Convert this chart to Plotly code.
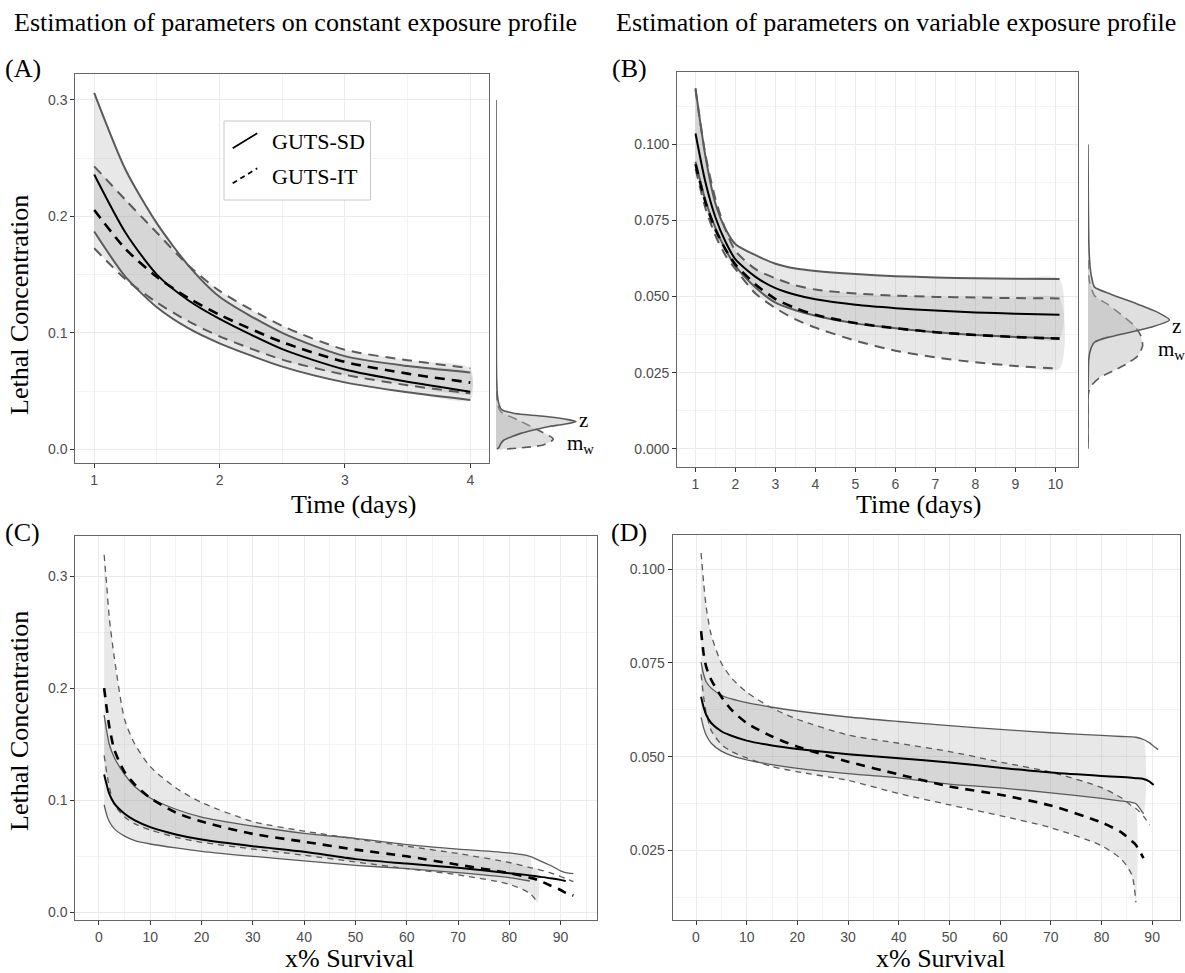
import plotly.graph_objects as go

W, H = 1185, 973
def fx(p): return p / W
def fy(p): return 1 - p / H

# ---------------- Panel A: constant exposure, LC vs time ----------------
A_time = [1, 1.25, 1.5, 1.75, 2, 2.5, 3, 3.5, 4]
A_sd_up = [0.306, 0.240, 0.194, 0.158, 0.131, 0.100, 0.080, 0.0715, 0.066]
A_sd_med = [0.236, 0.186, 0.150, 0.128, 0.112, 0.086, 0.0685, 0.058, 0.0495]
A_sd_lo = [0.187, 0.148, 0.122, 0.104, 0.091, 0.071, 0.0575, 0.049, 0.0424]
A_it_up = [0.243, 0.214, 0.186, 0.158, 0.136, 0.106, 0.0855, 0.0765, 0.0696]
A_it_med = [0.2055, 0.172, 0.148, 0.130, 0.1155, 0.092, 0.075, 0.065, 0.0573]
A_it_lo = [0.1726, 0.146, 0.126, 0.110, 0.097, 0.077, 0.064, 0.055, 0.048]

# marginal densities (relative density, z peak = 1)
A_z_y = [0.30, 0.20, 0.10, 0.060, 0.045, 0.038, 0.034, 0.031, 0.028, 0.0255, 0.0237,
         0.0215, 0.0194, 0.0166, 0.0137, 0.0110, 0.0080, 0.0050, 0.0020, 0.0]
A_z_d = [0.0, 0.002, 0.004, 0.008, 0.02, 0.04, 0.07, 0.22, 0.65, 0.90, 1.0,
         0.85, 0.65, 0.47, 0.31, 0.20, 0.10, 0.06, 0.04, 0.015]
A_mw_y = [0.050, 0.040, 0.0323, 0.0252, 0.0166, 0.0095, 0.0080, 0.0037, 0.0010, 0.0]
A_mw_d = [0.0, 0.0125, 0.06, 0.275, 0.525, 0.71, 0.71, 0.59, 0.275, 0.06]

# ---------------- Panel B: variable exposure, LC vs time ----------------
B_time = [1, 1.25, 1.5, 1.75, 2, 2.5, 3, 3.5, 4, 5, 6, 7, 8, 9, 10.1]
B_sd_up = [0.1185, 0.0960, 0.0805, 0.0722, 0.0672, 0.0636, 0.0608, 0.0592, 0.0584, 0.0574, 0.0567, 0.0563, 0.0560, 0.0559, 0.0558]
B_sd_med = [0.1036, 0.0875, 0.0760, 0.0680, 0.0622, 0.0565, 0.0528, 0.0506, 0.0491, 0.0473, 0.0462, 0.0454, 0.0448, 0.0444, 0.0440]
B_sd_lo = [0.0943, 0.0815, 0.0725, 0.0655, 0.0600, 0.0530, 0.0480, 0.0455, 0.0437, 0.0412, 0.0396, 0.0383, 0.0374, 0.0367, 0.0362]
B_it_up = [0.1180, 0.0965, 0.0820, 0.0720, 0.0650, 0.0590, 0.0560, 0.0537, 0.0523, 0.0510, 0.0503, 0.0499, 0.0497, 0.0495, 0.0494]
B_it_med = [0.0935, 0.0810, 0.0720, 0.0655, 0.0605, 0.0540, 0.0492, 0.0462, 0.0440, 0.0413, 0.0396, 0.0383, 0.0374, 0.0367, 0.0362]
B_it_lo = [0.0920, 0.0790, 0.0700, 0.0635, 0.0590, 0.0510, 0.0462, 0.0425, 0.0398, 0.0355, 0.0322, 0.0300, 0.0284, 0.0272, 0.0263]

B_z_y = [0.100, 0.080, 0.066, 0.060, 0.0569, 0.0531, 0.0508, 0.0475, 0.0449, 0.0423,
         0.0399, 0.0383, 0.0366, 0.0350, 0.0327, 0.0294, 0.025, 0.020, 0.0]
B_z_d = [0.0, 0.004, 0.012, 0.025, 0.04, 0.08, 0.28, 0.61, 0.85, 1.0,
         0.77, 0.52, 0.24, 0.08, 0.033, 0.009, 0.004, 0.001, 0.0]
B_mw_y = [0.062, 0.055, 0.0503, 0.0475, 0.0442, 0.0404, 0.0370, 0.0338, 0.0305, 0.0277,
          0.0260, 0.0235, 0.0210, 0.0190, 0.0170, 0.0]
B_mw_d = [0.0, 0.018, 0.08, 0.24, 0.40, 0.57, 0.65, 0.67, 0.61, 0.46,
          0.34, 0.15, 0.05, 0.012, 0.0, 0.0]

# ---------------- Panel C: constant exposure, LC vs x% survival ----------------
C_surv = [1, 1.5, 2, 3, 5, 7, 10, 15, 20, 30, 40, 50, 60, 70, 80, 84, 85.5, 88, 90, 91, 92.5]
C_sd_up = [0.176, 0.162, 0.150, 0.138, 0.123, 0.112, 0.102, 0.092, 0.085, 0.077, 0.0705, 0.066, 0.0605, 0.0565, 0.053, 0.050, 0.047, 0.042, 0.037, 0.0355, 0.0345]
C_sd_med = [0.123, 0.114, 0.106, 0.097, 0.088, 0.082, 0.076, 0.0695, 0.065, 0.059, 0.054, 0.0475, 0.0435, 0.0397, 0.035, 0.033, 0.032, 0.0305, 0.029, 0.028, None]
C_sd_lo = [0.096, 0.087, 0.081, 0.0745, 0.068, 0.064, 0.061, 0.0575, 0.0545, 0.050, 0.046, 0.042, 0.039, 0.0355, 0.031, 0.028, None, None, None, None, None]
C_it_up = [0.319, 0.292, 0.263, 0.227, 0.172, 0.150, 0.130, 0.111, 0.098, 0.081, 0.0725, 0.0655, 0.059, 0.0525, 0.0445, 0.040, 0.0385, 0.0353, 0.032, 0.030, 0.0275]
C_it_med = [0.200, 0.182, 0.166, 0.145, 0.125, 0.114, 0.102, 0.089, 0.081, 0.070, 0.063, 0.056, 0.050, 0.0425, 0.035, 0.031, 0.029, 0.024, 0.020, 0.0175, 0.015]
C_it_lo = [0.140, 0.125, 0.112, 0.096, 0.085, 0.079, 0.0735, 0.067, 0.0625, 0.0565, 0.051, 0.045, 0.039, 0.0335, 0.025, 0.017, 0.009, None, None, None, None]

# ---------------- Panel D: variable exposure, LC vs x% survival ----------------
D_surv = [1, 1.5, 2, 3, 5, 7, 10, 15, 20, 30, 40, 50, 60, 70, 80, 84, 86, 86.8, 88.3, 89.5, 90.3, 91.2]
D_sd_up = [0.0752, 0.0720, 0.0700, 0.0683, 0.0664, 0.0654, 0.0644, 0.0632, 0.0622, 0.0606, 0.0594, 0.0583, 0.0573, 0.0564, 0.0557, 0.0554, 0.0553, 0.0552, 0.0546, 0.0537, 0.0528, 0.0519]
D_sd_med = [0.0660, 0.0632, 0.0612, 0.0590, 0.0568, 0.0556, 0.0543, 0.0530, 0.0521, 0.0507, 0.0496, 0.0485, 0.0471, 0.0458, 0.0449, 0.0446, 0.0444, 0.0443, 0.0441, 0.0434, 0.0425, None]
D_sd_lo = [0.0605, 0.0577, 0.0558, 0.0536, 0.0515, 0.0503, 0.0492, 0.0479, 0.0469, 0.0455, 0.0444, 0.0427, 0.0417, 0.0404, 0.0389, 0.0382, 0.0378, 0.0375, 0.0348, None, None, None]
D_it_up = [0.1043, 0.0965, 0.0900, 0.0825, 0.0750, 0.0710, 0.0672, 0.0630, 0.0600, 0.0558, 0.0536, 0.0514, 0.0486, 0.0459, 0.0418, 0.0390, 0.0369, 0.0362, 0.0342, 0.0318, None, None]
D_it_med = [0.0835, 0.0775, 0.0740, 0.0705, 0.0660, 0.0625, 0.0590, 0.0554, 0.0527, 0.0487, 0.0453, 0.0421, 0.0399, 0.0370, 0.0325, 0.0298, 0.0275, 0.0265, 0.0230, None, None, None]
D_it_lo = [0.0720, 0.0660, 0.0618, 0.0570, 0.0533, 0.0514, 0.0497, 0.0474, 0.0460, 0.0437, 0.0402, 0.0372, 0.0343, 0.0311, 0.0263, 0.0226, 0.0185, 0.0112, None, None, None, None]

legend_labels = ["GUTS-SD", "GUTS-IT"]

# ---------------- styling ----------------
SERIF = "Liberation Serif, Times New Roman, serif"
SANS = "Liberation Sans, Arial, sans-serif"
BAND = "#5a5a5a"
FILL = "rgba(150,150,150,0.22)"
DFILL = "rgba(185,185,185,0.45)"

fig = go.Figure()

def add_ribbon(x, lo, up, xa, ya):
    pts = [(a, l, u) for a, l, u in zip(x, lo, up) if l is not None and u is not None]
    xs = [p[0] for p in pts] + [p[0] for p in reversed(pts)]
    ys = [p[2] for p in pts] + [p[1] for p in reversed(pts)]
    fig.add_trace(go.Scatter(x=xs, y=ys, mode="lines", fill="toself", fillcolor=FILL,
                             line=dict(width=0, shape="spline", smoothing=0.7),
                             xaxis=xa, yaxis=ya, hoverinfo="skip", showlegend=False))

def add_line(x, y, xa, ya, color, width, dash="solid"):
    pts = [(a, b) for a, b in zip(x, y) if b is not None]
    fig.add_trace(go.Scatter(x=[p[0] for p in pts], y=[p[1] for p in pts], mode="lines",
                             line=dict(color=color, width=width, dash=dash, shape="spline", smoothing=0.7),
                             xaxis=xa, yaxis=ya, hoverinfo="skip", showlegend=False))

def add_panel(x, sd_lo, sd_med, sd_up, it_lo, it_med, it_up, xa, ya, bw, bdash, mdash):
    add_ribbon(x, sd_lo, sd_up, xa, ya)
    add_ribbon(x, it_lo, it_up, xa, ya)
    add_line(x, sd_lo, xa, ya, BAND, bw)
    add_line(x, sd_up, xa, ya, BAND, bw)
    add_line(x, it_lo, xa, ya, BAND, bw, bdash)
    add_line(x, it_up, xa, ya, BAND, bw, bdash)
    add_line(x, sd_med, xa, ya, "black", 2.0)
    add_line(x, it_med, xa, ya, "black", 2.6, mdash)

def add_density(d, y, xa, ya, dash):
    fig.add_trace(go.Scatter(x=d, y=y, mode="lines", fill="tozerox", fillcolor=DFILL,
                             line=dict(color=BAND, width=1.6, dash=dash, shape="spline", smoothing=0.6),
                             xaxis=xa, yaxis=ya, hoverinfo="skip", showlegend=False))

add_panel(A_time, A_sd_lo, A_sd_med, A_sd_up, A_it_lo, A_it_med, A_it_up, "x", "y", 2.0, "10px,7px", "10px,7px")
add_density(A_mw_d, A_mw_y, "x2", "y2", "9px,6px")
add_density(A_z_d, A_z_y, "x2", "y2", "solid")

add_panel(B_time, B_sd_lo, B_sd_med, B_sd_up, B_it_lo, B_it_med, B_it_up, "x3", "y3", 2.0, "10px,7px", "10px,7px")
add_density(B_mw_d, B_mw_y, "x4", "y4", "9px,6px")
add_density(B_z_d, B_z_y, "x4", "y4", "solid")

add_panel(C_surv, C_sd_lo, C_sd_med, C_sd_up, C_it_lo, C_it_med, C_it_up, "x5", "y5", 1.3, "6px,5px", "9px,7px")
add_panel(D_surv, D_sd_lo, D_sd_med, D_sd_up, D_it_lo, D_it_med, D_it_up, "x6", "y6", 1.3, "6px,5px", "9px,7px")

# ---------------- axes ----------------
def xax(l, r, rng, dtick, minor, anchor):
    return dict(domain=[fx(l), fx(r)], range=rng, tickmode="linear", tick0=0, dtick=dtick,
                ticks="outside", ticklen=4, tickwidth=1, tickcolor="#333",
                tickfont=dict(family=SANS, size=14, color="#4d4d4d"),
                showline=True, mirror=True, linecolor="#666", linewidth=1.2,
                showgrid=True, gridcolor="#ebebeb", gridwidth=1.2, zeroline=False,
                minor=dict(tickmode="linear", tick0=0, dtick=minor, showgrid=True,
                           gridcolor="#f3f3f3", gridwidth=0.7, ticks=""),
                anchor=anchor, automargin=False)

def yax(t, b, rng, dtick, minor, fmt, anchor):
    d = xax(0, 1, rng, dtick, minor, anchor)
    d["domain"] = [fy(b), fy(t)]
    d["tickformat"] = fmt
    return d

def hidden(dom, rng, anchor):
    return dict(domain=dom, range=rng, visible=False, anchor=anchor, fixedrange=True)

A_yr = [-0.012, 0.322]
B_yr = [-0.0059, 0.1239]
fig.update_layout(
    xaxis=xax(75.4, 489.1, [0.85, 4.15], 1, 0.5, "y"),
    yaxis=yax(74.3, 463.3, A_yr, 0.1, 0.05, ".1f", "x"),
    xaxis2=hidden([fx(496), fx(596)], [0, 1.25], "y2"),
    yaxis2=hidden([fy(463.3), fy(74.3)], A_yr, "x2"),
    xaxis3=xax(677.3, 1077.7, [0.545, 10.555], 1, 0.5, "y3"),
    yaxis3=yax(71.7, 466.7, B_yr, 0.025, 0.0125, ".3f", "x3"),
    xaxis4=hidden([fx(1088), fx(1185)], [0, 1.19], "y4"),
    yaxis4=hidden([fy(466.7), fy(71.7)], B_yr, "x4"),
    xaxis5=xax(75.4, 597, [-4.6, 97.1], 10, 5, "y5"),
    yaxis5=yax(535.7, 920, [-0.0068, 0.336], 0.1, 0.05, ".1f", "x5"),
    xaxis6=xax(672.7, 1180, [-4.6, 95.5], 10, 5, "y6"),
    yaxis6=yax(535, 920, [0.0065, 0.1091], 0.025, 0.0125, ".3f", "x6"),
)

# ---------------- text ----------------
ann = []
def txt(s, x, y, size, xanchor="center", yanchor="middle", angle=0, xref="paper", yref="paper"):
    ann.append(dict(text=s, x=x, y=y, xref=xref, yref=yref, xanchor=xanchor, yanchor=yanchor,
                    textangle=angle, showarrow=False, font=dict(family=SERIF, size=size, color="black")))

txt("Estimation of parameters on constant exposure profile", fx(295), fy(22), 26)
txt("Estimation of parameters on variable exposure profile", fx(896), fy(22), 26)
txt("(A)", fx(3), fy(69), 26, "left")
txt("(B)", fx(610), fy(69), 26, "left")
txt("(C)", fx(3), fy(532), 26, "left")
txt("(D)", fx(609), fy(532), 26, "left")
txt("Time (days)", fx(353), fy(505), 26)
txt("Time (days)", fx(918), fy(505), 26)
txt("x% Survival", fx(349), fy(958), 26)
txt("x% Survival", fx(940), fy(958), 26)
txt("Lethal Concentration", fx(19), fy(305), 26, angle=-90)
txt("Lethal Concentration", fx(19), fy(721), 26, angle=-90)
txt(legend_labels[0], fx(270), fy(141.7), 22, "left")
txt(legend_labels[1], fx(270), fy(176.7), 22, "left")
txt("z", 1.01, 0.0252, 21, "left", xref="x2", yref="y2")
txt("m<sub>w</sub>", 0.86, 0.0045, 21, "left", xref="x2", yref="y2")
txt("z", 1.0, 0.0405, 21, "left", xref="x4", yref="y4")
txt("m<sub>w</sub>", 0.83, 0.0325, 21, "left", xref="x4", yref="y4")

shapes = [
    dict(type="rect", xref="paper", yref="paper", x0=fx(224), x1=fx(370.5), y0=fy(200), y1=fy(121),
         line=dict(color="#c8c8c8", width=1), fillcolor="white", layer="above"),
    dict(type="line", xref="paper", yref="paper", x0=fx(232.7), y0=fy(148.3), x1=fx(257.2), y1=fy(133.3),
         line=dict(color="black", width=1.8), layer="above"),
    dict(type="line", xref="paper", yref="paper", x0=fx(232.7), y0=fy(183.3), x1=fx(257.2), y1=fy(168.3),
         line=dict(color="black", width=1.8, dash="5px,4px"), layer="above"),
]

fig.update_layout(width=W, height=H, margin=dict(l=0, r=0, t=0, b=0, autoexpand=False),
                  paper_bgcolor="white", plot_bgcolor="white",
                  annotations=ann, shapes=shapes, showlegend=False)

fig.write_html("out.html", config={"displayModeBar": False},
               post_script="document.body.style.margin='0px';")
